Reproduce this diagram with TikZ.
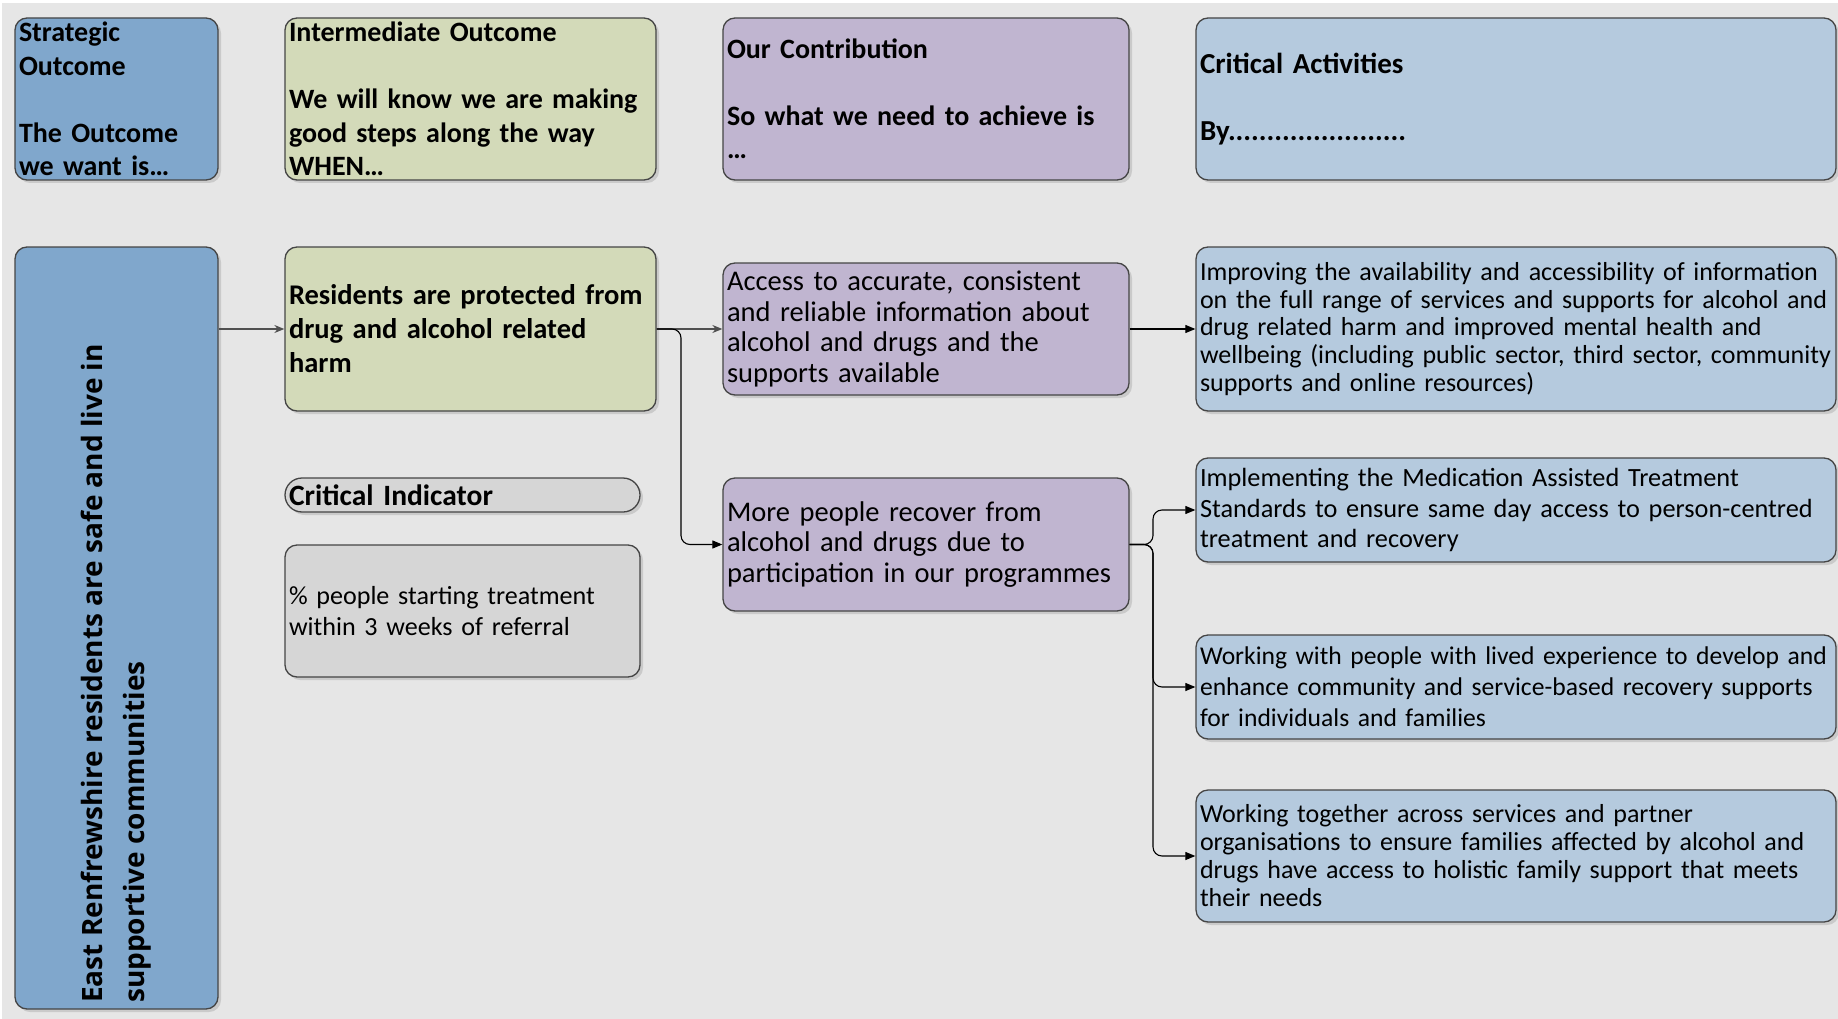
\documentclass[tikz,border=0pt]{standalone}
\usepackage{fontspec}
\setmainfont{Carlito}[WordSpace=0.85]
\newfontfamily\vfont{Open Sans}
\usetikzlibrary{arrows.meta,shadows}
\definecolor{bgc}{HTML}{E6E6E6}
\definecolor{edgec}{HTML}{454545}
\definecolor{bluec}{HTML}{80A7CC}
\definecolor{greenc}{HTML}{D3DAB9}
\definecolor{purplec}{HTML}{C0B5D0}
\definecolor{lbluec}{HTML}{B5CADE}
\definecolor{grayc}{HTML}{D6D6D6}
\definecolor{garrowc}{HTML}{505050}
\tikzset{
  card/.style={draw=edgec, line width=1.3pt, rounded corners=12pt,
    drop shadow={shadow xshift=3pt, shadow yshift=-3pt, opacity=0.12, fill=black},
    inner xsep=4pt, inner ysep=0pt, align=left, anchor=center, text=black},
  hdr/.style={font=\fontsize{28}{33.5}\selectfont\bfseries},
  bbold/.style={font=\fontsize{28.5}{34}\selectfont\bfseries},
  breg/.style={font=\fontsize{28.5}{30.5}\selectfont},
  gline/.style={draw=garrowc, line width=1.1pt, -{Stealth[length=10pt,width=8pt]}},
  bline/.style={draw=black, line width=1.1pt, rounded corners=9pt, -{Triangle[length=10pt,width=8pt]}}
}
\begin{document}
\begin{tikzpicture}[x=1pt,y=-1pt]
\useasboundingbox (0,0) rectangle (1838,1019);
\fill[white] (0,0) rectangle (1838,1019);
\fill[bgc] (2,3) rectangle (1838,1019);
% headers
\node[card, hdr, fill=bluec, minimum width=203, text width=195, minimum height=162] (hStrat) at (116.5,99)
  {Strategic\\Outcome\\\mbox{}\\The Outcome\\we want is…};
\node[card, hdr, fill=greenc, minimum width=371, text width=363, minimum height=162] (hInter) at (470.5,99)
  {Intermediate Outcome\\\mbox{}\\We will know we are making\\good steps along the way\\WHEN…};
\node[card, hdr, fill=purplec, minimum width=406, text width=398, minimum height=162] (hCon) at (926,99)
  {Our Contribution\\\mbox{}\\So what we need to achieve is\\…};
\node[card, hdr, font=\fontsize{29}{33.5}\selectfont\bfseries, fill=lbluec, minimum width=640, text width=632, minimum height=162] (hAct) at (1516,99)
  {Critical Activities\\\mbox{}\\By.......................};
% left column
\node[card, fill=bluec, minimum width=203, minimum height=762] (vert) at (116.5,628) {};
\node[rotate=90, anchor=west, align=left, inner sep=0pt, font=\vfont\fontsize{28}{42}\selectfont\bfseries] (vtext) at (116.5,1003)
  {East Renfrewshire residents are safe and live in\\supportive communities};
% intermediate column
\node[card, bbold, fill=greenc, minimum width=371, text width=363, minimum height=164] (res) at (470.5,329)
  {Residents are protected from\\drug and alcohol related\\harm};
\node[card, font=\fontsize{29.5}{34}\selectfont\bfseries, fill=grayc, rounded corners=17pt, minimum width=355, text width=347, minimum height=34] (ci) at (462.5,495)
  {Critical Indicator};
\node[card, font=\fontsize{26.1}{30.5}\selectfont, fill=grayc, minimum width=355, text width=347, minimum height=132] (pct) at (462.5,611)
  {\% people starting treatment\\within 3 weeks of referral};
% contribution column
\node[card, breg, fill=purplec, minimum width=406, text width=398, minimum height=132] (acc) at (926,329)
  {Access to accurate, consistent\\and reliable information about\\alcohol and drugs and the\\supports available};
\node[card, breg, fill=purplec, minimum width=406, text width=398, minimum height=133] (more) at (926,544.5)
  {More people recover from\\alcohol and drugs due to\\participation in our programmes};
% activities column
\node[card, font=\fontsize{26}{27.6}\selectfont, fill=lbluec, minimum width=640, text width=632, minimum height=164] (imp) at (1516,329)
  {Improving the availability and accessibility of information\\on the full range of services and supports for alcohol and\\drug related harm and improved mental health and\\wellbeing (including public sector, third sector, community\\supports and online resources)};
\node[card, font=\fontsize{26.3}{30.5}\selectfont, fill=lbluec, minimum width=640, text width=632, minimum height=104] (impl) at (1516,510)
  {Implementing the Medication Assisted Treatment\\Standards to ensure same day access to person-centred\\treatment and recovery};
\node[card, font=\fontsize{25.6}{31}\selectfont, fill=lbluec, minimum width=640, text width=632, minimum height=104] (wwith) at (1516,687)
  {Working with people with lived experience to develop and\\enhance community and service-based recovery supports\\for individuals and families};
\node[card, font=\fontsize{26}{28}\selectfont, fill=lbluec, minimum width=640, text width=632, minimum height=132] (wtog) at (1516,856)
  {Working together across services and partner\\organisations to ensure families affected by alcohol and\\drugs have access to holistic family support that meets\\their needs};
% connectors
\coordinate (j1) at (681,329);
\coordinate (j2) at (1153,544);
\draw[gline] (res.west -| vert.east) -- (res.west);
\draw[gline] (res.east) -- (res.east -| acc.west);
\draw[bline] (res.east) -| (j1 |- more.west) -- (more.west);
\draw[bline, rounded corners=0pt] (acc.east |- imp.west) -- (imp.west);
\draw[bline] (more.east) -| (j2 |- impl.west) -- (impl.west);
\draw[bline] (more.east) -| (j2 |- wwith.west) -- (wwith.west);
\draw[bline] (more.east) -| (j2 |- wtog.west) -- (wtog.west);
\end{tikzpicture}
\end{document}
